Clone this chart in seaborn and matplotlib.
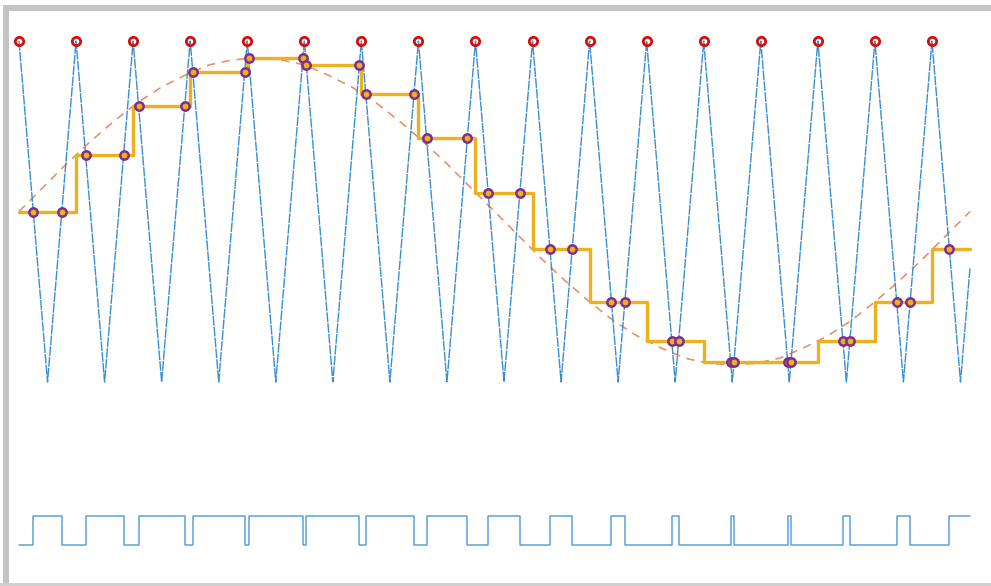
import numpy as np
import pandas as pd
import matplotlib
matplotlib.use("Agg")
import matplotlib.pyplot as plt
from matplotlib.patches import Rectangle
import seaborn as sns

# carrier triangle vertices (peak / trough), time in units of one reference period
tri_t = [0.00, 0.03, 0.06, 0.09, 0.12, 0.15, 0.18, 0.21, 0.24, 0.27, 0.30, 0.33,
         0.36, 0.39, 0.42, 0.45, 0.48, 0.51, 0.54, 0.57, 0.60, 0.63, 0.66, 0.69,
         0.72, 0.75, 0.78, 0.81, 0.84, 0.87, 0.90, 0.93, 0.96, 0.99, 1.00]
tri_v = [1, -1, 1, -1, 1, -1, 1, -1, 1, -1, 1, -1,
         1, -1, 1, -1, 1, -1, 1, -1, 1, -1, 1, -1,
         1, -1, 1, -1, 1, -1, 1, -1, 1, -1, -0.33]

# reference sine (dashed), read every 0.025
sine_t = [i / 40 for i in range(41)]
sine_v = [0.00, 0.14, 0.28, 0.41, 0.53, 0.64, 0.73, 0.80, 0.86, 0.89,
          0.90, 0.89, 0.86, 0.80, 0.73, 0.64, 0.53, 0.41, 0.28, 0.14,
          0.00, -0.14, -0.28, -0.41, -0.53, -0.64, -0.73, -0.80, -0.86, -0.89,
          -0.90, -0.89, -0.86, -0.80, -0.73, -0.64, -0.53, -0.41, -0.28, -0.14, 0.00]

# sampled (held) values at each carrier peak
samp_t = [0.00, 0.06, 0.12, 0.18, 0.24, 0.30, 0.36, 0.42, 0.48,
          0.54, 0.60, 0.66, 0.72, 0.78, 0.84, 0.90, 0.96]
samp_v = [0.00, 0.33, 0.62, 0.82, 0.90, 0.86, 0.69, 0.43, 0.11,
          -0.22, -0.53, -0.76, -0.88, -0.88, -0.76, -0.53, -0.22]
t_end = 1.00

pwm_low, pwm_high = -1.956, -1.786

# crossings of the carrier with the held value -> switching instants
cross_t, cross_v = [], []
for k, (t0, s) in enumerate(zip(samp_t, samp_v)):
    i = tri_t.index(t0)
    seg_down = np.interp(s, [tri_v[i + 1], tri_v[i]], [tri_t[i + 1], tri_t[i]])
    cross_t.append(seg_down); cross_v.append(s)
    if i + 2 < len(tri_t) and tri_v[i + 2] == 1:
        seg_up = np.interp(s, [tri_v[i + 1], tri_v[i + 2]], [tri_t[i + 1], tri_t[i + 2]])
        cross_t.append(seg_up); cross_v.append(s)

# pwm pulse train
pwm_t = [0.0]
pwm_v = [pwm_low]
state = pwm_low
for ct in cross_t:
    pwm_t += [ct, ct]
    pwm_v += [state, pwm_high if state == pwm_low else pwm_low]
    state = pwm_v[-1]
pwm_t.append(t_end)
pwm_v.append(state)

held_t = samp_t + [t_end]
held_v = samp_v + [samp_v[-1]]

sns.set_style("white")
fig = plt.figure(figsize=(9.91, 5.86), dpi=100)
ax = fig.add_axes([0, 0, 1, 1])

sns.lineplot(x=tri_t, y=tri_v, ax=ax, color="#3A8FCF", lw=1.0, sort=False,
             estimator=None, zorder=2)
ax.lines[-1].set_dashes([7, 0.8])
sns.lineplot(x=sine_t, y=sine_v, ax=ax, color="#E8906A", lw=1.2, sort=False,
             estimator=None, zorder=1)
ax.lines[-1].set_dashes([5, 4])
sns.lineplot(x=held_t, y=held_v, ax=ax, color="#EDB120", lw=2.4, sort=False,
             estimator=None, drawstyle="steps-post", zorder=3)
sns.lineplot(x=pwm_t, y=pwm_v, ax=ax, color="#5BA2DA", lw=1.1, sort=False,
             estimator=None, zorder=2)

ax.plot(samp_t, [1] * len(samp_t), ls="none", marker="o", ms=6,
        mfc="none", mec="#D01010", mew=2.0, zorder=5)
ax.plot(cross_t, cross_v, ls="none", marker="o", ms=6,
        mfc="#EDB120", mec="#7E2F8E", mew=1.8, zorder=6)

ax.set_xlim(-19 / 951, 972 / 951)
ax.set_ylim((211.5 - 586) / 170.5, 211.5 / 170.5)
ax.axis("off")

# screenshot frame
gray = "#C4C4C4"
fig.add_artist(Rectangle((3 / 991, 1 - 11 / 586), 1, 6 / 586, transform=fig.transFigure,
                         color=gray, lw=0))
fig.add_artist(Rectangle((3 / 991, 0), 6 / 991, 1 - 5 / 586, transform=fig.transFigure,
                         color=gray, lw=0))
fig.add_artist(Rectangle((0, 0), 1, 3 / 586, transform=fig.transFigure,
                         color="#D0D0D0", lw=0))

fig.savefig("out.png", dpi=100)
